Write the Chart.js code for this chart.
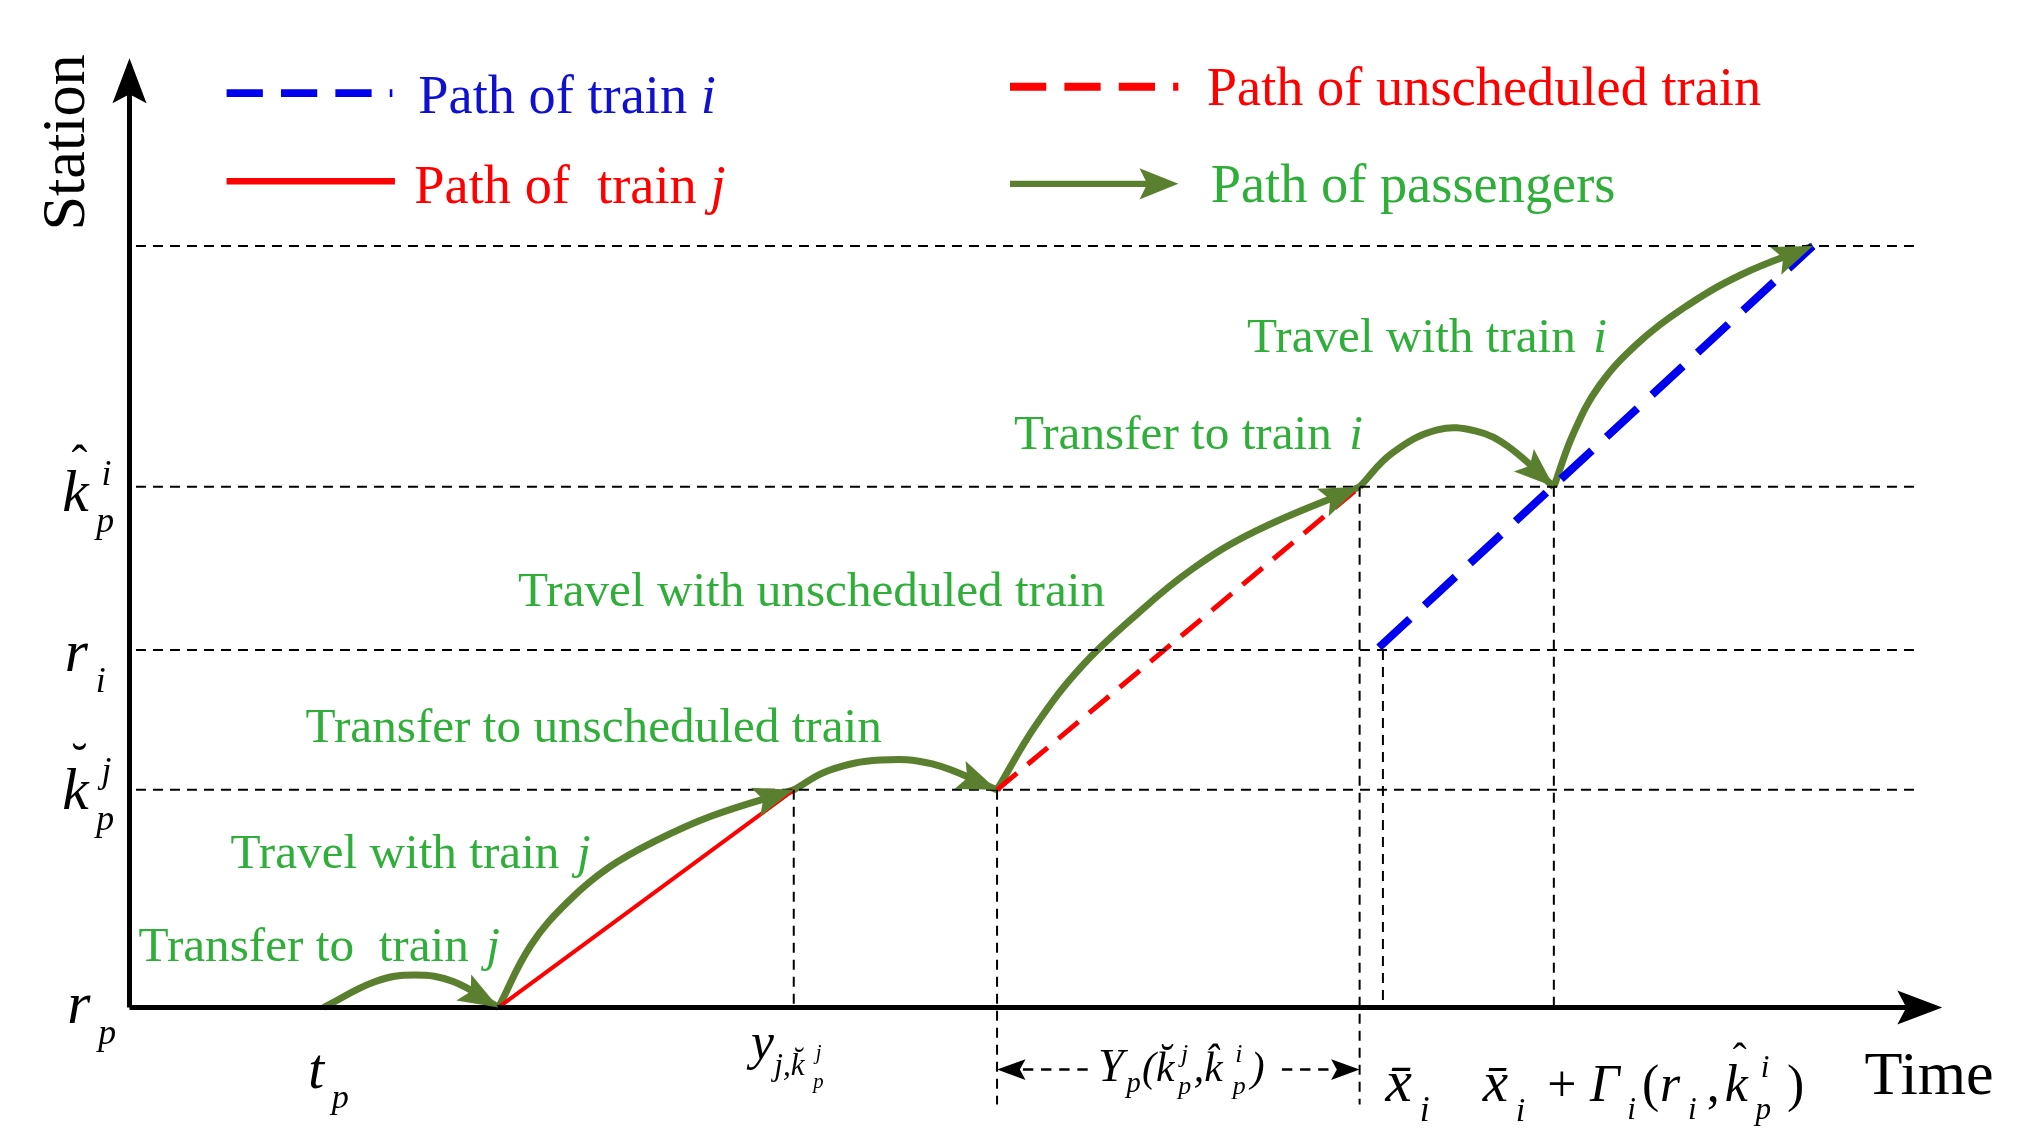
<!DOCTYPE html>
<html><head><meta charset="utf-8">
<script src="https://cdn.jsdelivr.net/npm/chart.js@4.4.0/dist/chart.umd.min.js"></script>
<style>html,body{margin:0;background:#fff}#c{display:block}</style>
</head><body>
<div style="width:2020px;height:1147px"><canvas id="c"></canvas></div>
<script>
// station levels (height above r_p) and key times, in figure units
const stations = { rp: 0, kBreve: 168, ri: 276, kHat: 402, top: 588 };
const times = { tp: 250, dj: 385, y: 613, u: 770, kHatT: 1050, xi: 1065, xiG: 1200, end: 1400 };

// train paths
const trainJ = [{x: 385, y: 0}, {x: 613, y: 168}];
const trainU = [{x: 770, y: 168}, {x: 1050, y: 402}];
const trainI = [{x: 1065, y: 278}, {x: 1400, y: 588}];

// passenger path pieces (each ends with an arrow)
const pass = [
  [[250,0],[290,20],[320,25],[350,20],[385,0]],
  [[385,0],[410,48],[440,83],[470,108],[505,128],[550,148],[613,168]],
  [[613,168],[640,183],[680,191],[720,188],[770,168]],
  [[770,168],[800,218],[835,263],[875,301],[920,338],[970,368],[1050,402]],
  [[1050,402],[1075,428],[1110,446],[1140,445],[1165,433],[1200,402]],
  [[1200,402],[1215,443],[1235,480],[1265,513],[1300,540],[1345,566],[1400,588]]
];

const S = 2020 / 1560;
const GREEN = "#5a7f2e", TXT = "#2fae3a";
const gridLines = [stations.top, stations.kHat, stations.ri, stations.kBreve];
const vLines = [[613,168,0],[770,168,-75],[1050,402,-75],[1068,276,0],[1200,402,0]];

const ds = [];
gridLines.forEach(v => ds.push({data: [{x: 105, y: v}, {x: 1480, y: v}], borderColor: "#000", borderWidth: 2, borderDash: [10, 7]}));
vLines.forEach(v => ds.push({data: [{x: v[0], y: v[1]}, {x: v[0], y: v[2]}], borderColor: "#000", borderWidth: 2, borderDash: [10, 7]}));
ds.push({data: [{x: 100, y: 0}, {x: 1480, y: 0}], borderColor: "#000", borderWidth: 5});
ds.push({data: [{x: 100, y: 0}, {x: 100, y: 710}], borderColor: "#000", borderWidth: 5});
ds.push({data: trainJ, borderColor: "#f00", borderWidth: 4});
ds.push({data: trainU, borderColor: "#f00", borderWidth: 5, borderDash: [26, 14]});
ds.push({data: trainI, borderColor: "#0000f0", borderWidth: 8, borderDash: [42, 20]});
pass.forEach(p => ds.push({data: p.map(q => ({x: q[0], y: q[1]})), borderColor: GREEN, borderWidth: 7, tension: 0.4, arrow: true}));
ds.forEach(d => { d.pointRadius = 0; d.fill = false; });

function head(ctx, x, y, ang, len, wid, col) {
  ctx.save(); ctx.translate(x, y); ctx.rotate(ang); ctx.fillStyle = col;
  ctx.beginPath(); ctx.moveTo(0, 0); ctx.lineTo(-len, -wid / 2); ctx.lineTo(-len * 0.8, 0); ctx.lineTo(-len, wid / 2); ctx.closePath(); ctx.fill();
  ctx.restore();
}

function mathLab(ctx, x, y, base, sub, sup, accent, size) {
  ctx.font = "italic " + size + "px 'Liberation Serif'";
  ctx.fillText(base, x, y);
  const w = ctx.measureText(base).width;
  if (accent) { ctx.font = size * 0.8 + "px 'Liberation Serif'"; ctx.fillText(accent, x + w * 0.35, y - size * 0.55); }
  ctx.font = "italic " + size * 0.6 + "px 'Liberation Serif'";
  if (sub) ctx.fillText(sub, x + w + 6, y + size * 0.35);
  if (sup) ctx.fillText(sup, x + w + 10, y - size * 0.45);
}

const deco = {
  id: "deco",
  afterDatasetsDraw(chart) {
    const ctx = chart.ctx, xs = chart.scales.x, ys = chart.scales.y;
    const px = v => xs.getPixelForValue(v), py = v => ys.getPixelForValue(v);
    // axis arrows
    head(ctx, px(1500), py(0), 0, 45, 34, "#000");
    head(ctx, px(100), py(733), -Math.PI / 2, 45, 34, "#000");
    chart.data.datasets.forEach(d => {
      if (!d.arrow) return;
      const n = d.data.length, a = d.data[n - 2], b = d.data[n - 1];
      const ang = Math.atan2(py(b.y) - py(a.y), px(b.x) - px(a.x));
      head(ctx, px(b.x), py(b.y), ang, 40, 30, GREEN);
    });
    // text in figure units
    ctx.save(); ctx.scale(S, S); ctx.textBaseline = "alphabetic";
    const T = (s, x, y, c, f) => { ctx.fillStyle = c; ctx.font = f || "38px 'Liberation Serif'"; ctx.fillText(s, x, y); };
    // legend
    ctx.lineCap = "butt";
    ctx.strokeStyle = "#0000f0"; ctx.lineWidth = 6; ctx.setLineDash([28, 14]);
    ctx.beginPath(); ctx.moveTo(175, 72); ctx.lineTo(303, 72); ctx.stroke();
    ctx.strokeStyle = "#f00"; ctx.setLineDash([28, 14]);
    ctx.beginPath(); ctx.moveTo(780, 67); ctx.lineTo(910, 67); ctx.stroke();
    ctx.setLineDash([]); ctx.lineWidth = 5;
    ctx.beginPath(); ctx.moveTo(175, 140); ctx.lineTo(305, 140); ctx.stroke();
    ctx.strokeStyle = GREEN; ctx.lineWidth = 5;
    ctx.beginPath(); ctx.moveTo(780, 142); ctx.lineTo(890, 142); ctx.stroke();
    head(ctx, 910, 142, 0, 30, 24, GREEN);
    const F = "42px 'Liberation Serif'", FI = "italic 42px 'Liberation Serif'";
    T("Path of train ", 323, 87, "#1010d0", F); T("i", 323 + ctx.measureText("Path of train ").width, 87, "#1010d0", FI);
    T("Path of  train ", 320, 157, "#f00", F); T("j", 320 + ctx.measureText("Path of  train ").width, 157, "#f00", FI);
    T("Path of unscheduled train", 932, 81, "#f00", F);
    T("Path of passengers", 935, 156, TXT, F);
    // green labels
    const G = "38px 'Liberation Serif'", GI = "italic 38px 'Liberation Serif'";
    [["Travel with train ", "i", 963, 272], ["Transfer to train ", "i", 783, 347], ["Travel with unscheduled train", "", 400, 468],
     ["Transfer to unscheduled train", "", 236, 573], ["Travel with train ", "j", 178, 670], ["Transfer to  train ", "j", 107, 742]]
      .forEach(l => { T(l[0], l[2], l[3], TXT, G); if (l[1]) T(l[1], l[2] + ctx.measureText(l[0]).width + 4, l[3], TXT, GI); });
    // axis titles
    ctx.fillStyle = "#000";
    ctx.save(); ctx.translate(65, 110); ctx.rotate(-Math.PI / 2); ctx.font = "48px 'Liberation Serif'"; ctx.textAlign = "center"; ctx.fillText("Station", 0, 0); ctx.restore();
    T("Time", 1440, 845, "#000", "48px 'Liberation Serif'");
    // y tick labels
    ctx.fillStyle = "#000";
    mathLab(ctx, 48, 395, "k", "p", "i", "ˆ", 46);
    mathLab(ctx, 50, 518, "r", "i", "", "", 46);
    mathLab(ctx, 48, 625, "k", "p", "j", "˘", 46);
    mathLab(ctx, 52, 790, "r", "p", "", "", 46);
    // x tick labels
    mathLab(ctx, 238, 840, "t", "p", "", "", 44);
    ctx.font = "italic 40px 'Liberation Serif'"; ctx.fillText("y", 580, 818);
    ctx.font = "italic 24px 'Liberation Serif'"; ctx.fillText("j,k̆", 598, 830);
    ctx.font = "italic 16px 'Liberation Serif'"; ctx.fillText("p", 628, 840); ctx.fillText("j", 630, 818);
    ctx.font = "italic 36px 'Liberation Serif'"; ctx.fillText("Y", 848, 835);
    ctx.font = "italic 22px 'Liberation Serif'"; ctx.fillText("p", 870, 843);
    ctx.font = "italic 32px 'Liberation Serif'"; ctx.fillText("(k̆", 882, 835);
    ctx.font = "italic 20px 'Liberation Serif'"; ctx.fillText("p", 910, 845); ctx.fillText("j", 912, 820);
    ctx.font = "italic 32px 'Liberation Serif'"; ctx.fillText(",k̂", 922, 835);
    ctx.font = "italic 20px 'Liberation Serif'"; ctx.fillText("p", 952, 845); ctx.fillText("i", 954, 820);
    ctx.font = "italic 32px 'Liberation Serif'"; ctx.fillText(")", 966, 835);
    ctx.strokeStyle = "#000"; ctx.lineWidth = 2; ctx.setLineDash([8, 6]);
    ctx.beginPath(); ctx.moveTo(790, 826); ctx.lineTo(840, 826); ctx.moveTo(990, 826); ctx.lineTo(1030, 826); ctx.stroke();
    ctx.setLineDash([]);
    head(ctx, 770, 826, Math.PI, 22, 16, "#000"); head(ctx, 1050, 826, 0, 22, 16, "#000");
    mathLab(ctx, 1070, 850, "x̄", "i", "", "", 46);
    mathLab(ctx, 1145, 850, "x̄", "i", "", "", 44);
    ctx.font = "40px 'Liberation Serif'"; ctx.fillText("+", 1195, 850);
    mathLab(ctx, 1228, 850, "Γ", "i", "", "", 40);
    ctx.font = "40px 'Liberation Serif'"; ctx.fillText("(", 1268, 850);
    mathLab(ctx, 1282, 850, "r", "i", "", "", 40);
    ctx.font = "40px 'Liberation Serif'"; ctx.fillText(",", 1318, 850);
    mathLab(ctx, 1332, 850, "k", "p", "i", "ˆ", 40);
    ctx.font = "40px 'Liberation Serif'"; ctx.fillText(")", 1380, 850);
    ctx.restore();
  }
};

Promise.all([
  document.fonts.load("40px 'Liberation Serif'"),
  document.fonts.load("italic 40px 'Liberation Serif'")
]).catch(() => {}).then(() => {
  new Chart(document.getElementById("c"), {
    type: "line",
    data: { datasets: ds },
    options: {
      responsive: true, maintainAspectRatio: false, animation: false,
      layout: { padding: 0 },
      plugins: { legend: { display: false }, tooltip: { enabled: false } },
      scales: {
        x: { type: "linear", min: 0, max: 1560, display: false },
        y: { type: "linear", min: 778 - 1147 / S, max: 778, display: false }
      }
    },
    plugins: [deco]
  });
});
</script>
</body></html>
